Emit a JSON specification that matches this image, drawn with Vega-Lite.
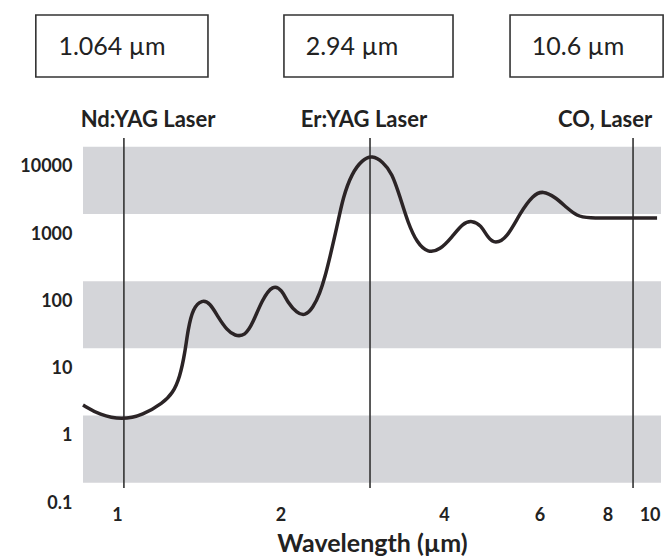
{
  "$schema": "https://vega.github.io/schema/vega-lite/v6.json",
  "autosize": {"type": "none"},
  "width": 578,
  "height": 503,
  "padding": {"left": 83, "top": 0, "right": 6, "bottom": 56},
  "background": "white",
  "config": {"view": {"stroke": null}, "font": "Lato"},
  "datasets": {
    "bands": [
      {"x": 0.866, "x2": 10.04, "y": 2000, "y2": 20000},
      {"x": 0.866, "x2": 10.04, "y": 20, "y2": 200},
      {"x": 0.866, "x2": 10.04, "y": 0.2, "y2": 2}
    ],
    "lasers": [
      {"x": 1.03, "y": 0.167, "y2": 27000, "name": "Nd:YAG Laser", "lx": 1.141, "box": "1.064 µm", "bx": 0.709, "bx2": 1.471, "tx": 0.979},
      {"x": 2.924, "y": 0.167, "y2": 27000, "name": "Er:YAG Laser", "lx": 2.85, "box": "2.94 µm", "bx": 2.03, "bx2": 4.157, "tx": 2.709},
      {"x": 8.918, "y": 0.167, "y2": 27000, "name": "CO, Laser", "lx": 7.92, "box": "10.6 µm", "bx": 5.294, "bx2": 10.13, "tx": 7.063}
    ],
    "curve": [
      {"x": 0.866, "y": 2.872},
      {"x": 0.93, "y": 2.04},
      {"x": 1.021, "y": 1.719},
      {"x": 1.117, "y": 2.04},
      {"x": 1.215, "y": 3.077},
      {"x": 1.268, "y": 4.335},
      {"x": 1.306, "y": 7.5},
      {"x": 1.334, "y": 17.07},
      {"x": 1.351, "y": 37.5},
      {"x": 1.38, "y": 79.8},
      {"x": 1.434, "y": 106},
      {"x": 1.484, "y": 94.7},
      {"x": 1.535, "y": 58.6},
      {"x": 1.594, "y": 37.5},
      {"x": 1.649, "y": 30.6},
      {"x": 1.721, "y": 30.6},
      {"x": 1.78, "y": 47.7},
      {"x": 1.849, "y": 104.9},
      {"x": 1.938, "y": 180},
      {"x": 2.013, "y": 147.8},
      {"x": 2.065, "y": 94.7},
      {"x": 2.145, "y": 67.2},
      {"x": 2.22, "y": 60.6},
      {"x": 2.296, "y": 79.8},
      {"x": 2.365, "y": 133.4},
      {"x": 2.416, "y": 230.7},
      {"x": 2.467, "y": 457.8},
      {"x": 2.542, "y": 1280},
      {"x": 2.608, "y": 3578},
      {"x": 2.709, "y": 8142},
      {"x": 2.827, "y": 12714},
      {"x": 2.949, "y": 15000},
      {"x": 3.09, "y": 11867},
      {"x": 3.21, "y": 8142},
      {"x": 3.321, "y": 3578},
      {"x": 3.435, "y": 1468},
      {"x": 3.569, "y": 739.6},
      {"x": 3.738, "y": 525.2},
      {"x": 3.934, "y": 582.1},
      {"x": 4.14, "y": 908.4},
      {"x": 4.337, "y": 1468},
      {"x": 4.507, "y": 1600},
      {"x": 4.68, "y": 1370},
      {"x": 4.822, "y": 878},
      {"x": 4.968, "y": 714.8},
      {"x": 5.227, "y": 878},
      {"x": 5.524, "y": 2068},
      {"x": 5.837, "y": 3831},
      {"x": 6.087, "y": 4450},
      {"x": 6.406, "y": 3578},
      {"x": 6.742, "y": 2454},
      {"x": 7.034, "y": 1866},
      {"x": 7.338, "y": 1742},
      {"x": 8.44, "y": 1742},
      {"x": 9.874, "y": 1742}
    ]
  },
  "encoding": {
    "x": {
      "field": "x",
      "type": "quantitative",
      "scale": {"type": "log", "domain": [0.866, 10.04], "nice": false},
      "axis": {
        "title": "Wavelength (µm)",
        "values": [1, 2, 4, 6, 8, 10],
        "format": "~g",
        "domain": false,
        "ticks": false,
        "grid": false,
        "labelFlush": true,
        "labelPadding": 3,
        "labelFontSize": 18,
        "labelFontWeight": "bold",
        "labelColor": "#222222",
        "titleFontSize": 25,
        "titleFontWeight": "bold",
        "titleColor": "#222222",
        "titlePadding": 7
      }
    },
    "y": {
      "field": "y",
      "type": "quantitative",
      "scale": {"type": "log", "domain": [0.1, 3055000], "nice": false},
      "axis": {
        "title": null,
        "values": [0.1, 1, 10, 100, 1000, 10000],
        "format": "~g",
        "domain": false,
        "ticks": false,
        "grid": false,
        "labelPadding": 11,
        "labelFontSize": 18,
        "labelFontWeight": "bold",
        "labelColor": "#222222"
      }
    }
  },
  "layer": [
    {
      "data": {"name": "bands"},
      "mark": {"type": "rect", "color": "#d4d5d9"},
      "encoding": {"x2": {"field": "x2"}, "y2": {"field": "y2"}}
    },
    {
      "data": {"name": "lasers"},
      "mark": {"type": "rule", "color": "#333333", "strokeWidth": 1.6},
      "encoding": {"y2": {"field": "y2"}}
    },
    {
      "data": {"name": "curve"},
      "mark": {"type": "line", "color": "#2b2426", "strokeWidth": 3.5, "interpolate": "basis"},
      "encoding": {}
    },
    {
      "data": {"name": "lasers"},
      "mark": {"type": "rect", "fill": "white", "stroke": "#333333", "strokeWidth": 1.6},
      "encoding": {
        "x": {"field": "bx"},
        "x2": {"field": "bx2"},
        "y": {"datum": 218300},
        "y2": {"datum": 1830000}
      }
    },
    {
      "data": {"name": "lasers"},
      "mark": {"type": "text", "fontSize": 25, "color": "#222222", "baseline": "middle"},
      "encoding": {
        "x": {"field": "tx"},
        "y": {"datum": 611000},
        "text": {"field": "box"}
      }
    },
    {
      "data": {"name": "lasers"},
      "mark": {"type": "text", "fontSize": 22, "fontWeight": "bold", "color": "#222222", "baseline": "middle"},
      "encoding": {
        "x": {"field": "lx"},
        "y": {"datum": 50000},
        "text": {"field": "name"}
      }
    }
  ]
}
